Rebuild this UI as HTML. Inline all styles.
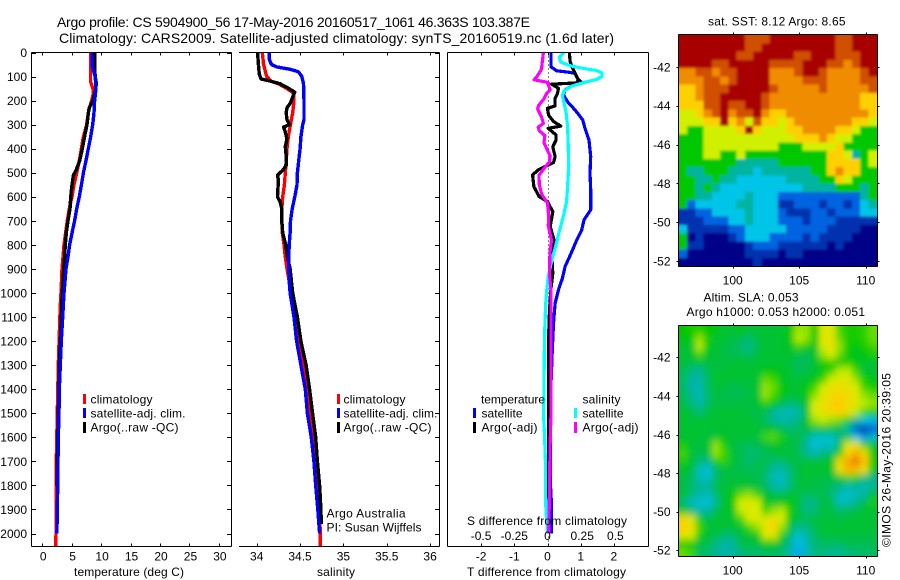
<!DOCTYPE html>
<html lang="en">
<head>
<meta charset="utf-8">
<title>Argo profile 5904900_56</title>
<style>
html,body{margin:0;padding:0;background:#fff;}
svg{display:block;font-family:"Liberation Sans",sans-serif;font-size:12px;fill:#000;}
.f{stroke:#000;stroke-width:1;shape-rendering:crispEdges;fill:none;}
.t{font-size:14px;}
</style>
</head>
<body>
<svg id="chart" width="900" height="580" viewBox="0 0 900 580" xmlns="http://www.w3.org/2000/svg">
<defs>
<clipPath id="clip-sst"><rect x="679" y="35" width="198" height="231"/></clipPath>
<clipPath id="clip-sla"><rect x="679" y="326" width="198" height="231"/></clipPath>
<filter id="soft" filterUnits="userSpaceOnUse" x="640" y="290" width="280" height="300"><feGaussianBlur stdDeviation="3.2 4"/></filter>
<filter id="soft-sst" filterUnits="userSpaceOnUse" x="640" y="0" width="280" height="300"><feGaussianBlur stdDeviation="1.4 1.4"/></filter>
</defs>
<rect x="0" y="0" width="900" height="580" fill="#fff"/>

<text class="t" x="57" y="27" textLength="473">Argo profile: CS 5904900_56 17-May-2016 20160517_1061 46.363S 103.387E</text>
<text class="t" x="59" y="43" textLength="555">Climatology: CARS2009. Satellite-adjusted climatology: synTS_20160519.nc (1.6d later)</text>

<g id="p1"></g>
<g id="p2"></g>
<g id="p3"></g>

<g>
<rect x="83" y="394" width="3" height="10" fill="#f00"/>
<rect x="83" y="408" width="3" height="10" fill="#00f"/>
<rect x="83" y="422" width="3" height="11" fill="#000"/>
<text x="90.5" y="403.3" textLength="62">climatology</text>
<text x="90.5" y="417.5" textLength="95">satellite-adj. clim.</text>
<text x="90.5" y="431.5" textLength="88">Argo(..raw -QC)</text>
</g>
<g>
<rect x="337" y="394" width="3" height="10" fill="#f00"/>
<rect x="337" y="408" width="3" height="10" fill="#00f"/>
<rect x="337" y="422" width="3" height="11" fill="#000"/>
<text x="343.5" y="403.3" textLength="62">climatology</text>
<text x="343.5" y="417.5" textLength="94">satellite-adj. clim.</text>
<text x="343.5" y="431.5" textLength="88">Argo(..raw -QC)</text>
<text x="326.5" y="517.7" textLength="79">Argo Australia</text>
<text x="326.5" y="531.7" textLength="95">PI: Susan Wijffels</text>
</g>
<g>
<text x="481" y="403.3" textLength="64">temperature</text>
<rect x="473" y="408" width="3" height="10" fill="#00f"/>
<rect x="473" y="422" width="3" height="11" fill="#000"/>
<text x="481.5" y="417.5" textLength="41">satellite</text>
<text x="481.5" y="431.5" textLength="56">Argo(-adj)</text>
<text x="582.5" y="403.3" textLength="38">salinity</text>
<rect x="574" y="408" width="3" height="10" fill="#0ff"/>
<rect x="574" y="422" width="3" height="11" fill="#f0f"/>
<text x="582.5" y="417.5" textLength="41">satellite</text>
<text x="582.5" y="431.5" textLength="56">Argo(-adj)</text>
<text x="467" y="525" textLength="160">S difference from climatology</text>
</g>

<text x="74" y="576" textLength="110">temperature (deg C)</text>
<text x="317" y="576" textLength="38">salinity</text>
<text x="467" y="576" textLength="159">T difference from climatology</text>

<g id="m1"></g>
<g id="m2"></g>

<text x="708" y="25.5" textLength="137.5">sat. SST: 8.12 Argo: 8.65</text>
<text x="703.5" y="301.7" textLength="95">Altim. SLA: 0.053</text>
<text x="686.5" y="316" textLength="178.5">Argo h1000: 0.053 h2000: 0.051</text>
<text transform="translate(890.5,547) rotate(-90)" x="0" y="0" textLength="174">©IMOS 26-May-2016 20:39:05</text>
</svg>

<script>
var depthTicks = [0,100,200,300,400,500,600,700,800,900,1000,1100,1200,1300,1400,1500,1600,1700,1800,1900,2000];
var tempTicks = [0,5,10,15,20,25,30];
var salTicks = [34,34.5,35,35.5,36];
var salTickLabels = ['34','34.5','35','35.5','36'];
var diffTicks = [-2,-1,0,1,2];
var diffTickLabels = ['-2','-1','0','1','2'];
var sDiffTicks = [-0.5,-0.25,0,0.25,0.5];
var sDiffTickLabels = ['-0.5','-0.25','0','0.25','0.5'];
var lonTicks = [100,105,110];
var latTicks = [-42,-44,-46,-48,-50,-52];

var tempClimDepth = [0,120,150,170,200,240,300,350,400,450,500,550,600,650,700,750,800,900,1000,1050,1300,1500,1700,2000,2057];
var tempClim = [8.2,8.2,8.6,8.7,8.4,7.9,7.55,7,6.65,6.3,5.85,5.4,5.06,4.6,4.26,3.98,3.7,3.36,3.2,3.08,2.74,2.57,2.4,2.34,2.3];
var tempSatDepth = [0,60,100,150,200,250,300,350,400,450,500,550,600,650,700,750,800,850,900,1000,1100,1200,1300,1400,1500,1600,1700,1800,1900,2000];
var tempSat = [8.45,8.5,9,9.13,8.9,8.8,8.57,8.23,7.83,7.44,7,6.65,6.3,5.85,5.5,5.06,4.66,4.38,4.04,3.7,3.48,3.25,3.08,2.9,2.85,2.74,2.68,2.63,2.57,2.5];
var tempArgoDepth = [0,60,100,130,160,200,230,250,300,340,400,450,490,510,550,600,650,700,750,800,850,900,1000,1100,1300,1500,1700,1800];
var tempArgo = [8.9,8.9,9,9.2,9,8.6,8,7.85,7.6,7.27,6.8,6.37,5.74,5.3,5.06,4.84,4.72,4.38,4.1,3.92,3.8,3.65,3.4,3.25,2.9,2.74,2.57,2.5];

var salClimDepth = [0,50,100,120,130,150,170,200,250,300,350,400,450,500,550,600,650,700,750,800,850,900,1000,1100,1200,1300,1400,1500,1600,1700,1800,1900,2000,2057];
var salClim = [34.065,34.08,34.115,34.17,34.25,34.35,34.43,34.43,34.415,34.39,34.365,34.35,34.34,34.33,34.32,34.3,34.29,34.29,34.295,34.315,34.33,34.35,34.4,34.445,34.5,34.53,34.58,34.615,34.64,34.67,34.7,34.72,34.735,34.735];
var salSatDepth = [0,30,50,60,70,80,100,130,200,280,300,350,400,450,500,550,600,650,700,750,800,850,900,950,1000,1100,1200,1300,1400,1500,1600,1700,1800,1900,2000];
var salSat = [34.146,34.146,34.17,34.23,34.385,34.48,34.52,34.54,34.546,34.546,34.53,34.51,34.5,34.485,34.47,34.465,34.44,34.41,34.39,34.385,34.375,34.37,34.37,34.375,34.385,34.43,34.46,34.51,34.56,34.585,34.63,34.66,34.68,34.705,34.725];
var salArgoDepth = [0,50,90,110,118,130,145,165,180,210,230,250,280,300,310,330,360,390,430,470,490,510,530,600,620,650,700,750,800,850,900,1000,1100,1200,1300,1400,1500,1600,1700,1800,1900,1960];
var salArgo = [34.01,34.02,34.03,34.05,34.15,34.27,34.35,34.44,34.42,34.39,34.35,34.34,34.35,34.38,34.31,34.33,34.35,34.33,34.34,34.34,34.3,34.24,34.25,34.24,34.27,34.29,34.29,34.3,34.335,34.355,34.385,34.415,34.47,34.51,34.57,34.61,34.645,34.68,34.7,34.725,34.74,34.745];

var dTSatDepth = [0,60,76,82,87,114,127,156,176,204,239,280,315,364,433,502,571,654,696,738,780,835,890,939,987,1043,1126,1237,1400,1600,1800,1880,2000];
var dTSat = [0.105,0.105,0.276,0.63,0.83,0.93,0.86,0.53,0.48,0.6,0.83,1.06,1.13,1.25,1.3,1.28,1.3,1.3,1.1,1.03,0.88,0.71,0.53,0.45,0.33,0.23,0.18,0.145,0.1,0.08,0.09,0.12,0.12];
var dTArgoDepth = [0,37,63,87,107,125,132,149,170,191,222,232,260,287,306,315,343,364,392,433,458,488,509,558,599,620,662,724,780,835,918,990,1100,1200,1500,1950];
var dTArgo = [0.66,0.68,0.75,0.83,0.9,1.03,0.125,0.33,0.3,0.23,0.23,0,0.03,0.18,0.4,0.02,0.26,0.26,0.16,0.23,0.18,-0.28,-0.45,-0.41,-0.25,0,0.16,0.08,0.2,0.125,0.16,0.1,0.05,0.03,0.03,0.03];
var dSSatDepth = [0,20,40,55,65,75,85,100,112,125,140,160,180,210,250,300,350,400,470,550,620,680,740,800,860,930,990,1050,1150,1250,1400,1500,1600,1700,1800,1900,2000];
var dSSat = [0.124,0.089,0.1,0.17,0.257,0.37,0.41,0.41,0.37,0.27,0.18,0.124,0.112,0.124,0.14,0.15,0.154,0.157,0.16,0.152,0.144,0.12,0.09,0.064,0.034,0.006,-0.006,-0.014,-0.02,-0.024,-0.026,-0.03,-0.022,-0.016,-0.016,-0.012,0];
var dSArgoDepth = [0,60,75,100,113,125,135,155,170,195,220,235,270,295,310,325,345,375,400,430,455,485,510,550,590,625,680,720,780,830,920,990,1200,1500,1650,1850,2000];
var dSArgo = [-0.031,-0.044,-0.049,-0.08,-0.1,0.006,0.006,0.02,-0.006,-0.03,-0.067,-0.074,-0.044,-0.031,-0.07,-0.062,-0.02,-0.026,-0.006,0.02,0.014,-0.03,-0.064,-0.062,-0.044,0,0.009,0.006,0.03,0.019,0.014,0.026,0.026,0.026,0.019,0.014,0.009];

var sstRows = [
[10,10,10,10,10,10,10,10,9,9,9,10,10,10,10,10,10,10,10,9,9,10,10,10],
[10,10,10,10,10,10,10,10,9,9,10,10,10,10,10,10,10,10,10,9,9,10,10,10],
[10,10,10,10,10,10,10,9,9,10,10,10,10,10,9,9,10,10,10,9,9,9,10,10],
[10,10,10,10,9,9,10,10,10,10,10,9,9,9,9,10,10,10,9,9,8,9,10,10],
[8,8,9,9,8,9,9,10,10,10,10,8,8,8,9,10,10,9,8,8,8,8,9,10],
[8,8,8,9,9,8,9,10,10,10,10,8,8,8,8,9,9,9,8,8,8,8,9,9],
[7,7,8,9,9,9,10,10,10,10,10,9,8,8,8,8,8,9,8,8,8,8,8,9],
[7,7,8,9,9,10,10,10,10,10,9,8,8,8,8,8,8,8,8,8,8,8,7,7],
[7,7,7,9,9,10,9,9,10,10,9,8,8,8,8,8,8,8,8,8,8,8,7,7],
[6,6,7,8,9,10,8,9,9,10,8,7,7,8,8,8,8,8,8,8,8,8,8,7],
[6,6,6,7,7,10,7,8,6,9,7,7,6,7,8,8,8,8,8,8,8,7,7,6],
[6,5,5,6,6,6,6,7,10,7,6,6,6,7,7,8,8,8,8,7,7,6,5,5],
[5,5,5,6,6,6,6,6,6,6,6,6,6,6,7,7,7,8,7,6,6,5,5,5],
[5,5,5,6,6,6,6,6,6,6,6,6,5,5,5,6,6,6,6,7,5,5,5,5],
[5,5,5,6,6,5,5,6,5,5,5,5,5,5,5,5,5,5,7,7,6,4,5,6],
[5,5,5,5,5,5,5,4,4,4,4,4,5,5,5,5,5,5,7,7,7,7,5,6],
[5,4,4,5,5,5,4,4,4,3,4,4,4,4,4,4,5,5,7,8,7,7,5,5],
[5,5,4,4,5,4,4,3,3,3,3,3,3,4,4,4,4,5,5,7,6,5,5,5],
[5,5,4,5,4,3,3,3,3,3,3,3,3,3,3,4,4,4,4,5,5,5,4,5],
[5,5,4,4,3,3,3,3,4,3,3,3,2,2,2,2,2,2,2,2,2,2,4,5],
[5,2,3,3,3,3,3,4,4,3,3,3,1,1,2,2,2,1,2,2,1,2,3,4],
[1,1,2,2,3,3,3,3,4,3,3,3,2,1,1,1,2,2,1,2,2,2,3,3],
[1,1,1,2,2,2,3,3,4,3,3,3,2,2,2,1,2,2,2,1,1,1,1,1],
[3,1,1,1,1,1,2,2,3,3,3,3,3,2,2,2,2,2,1,1,1,1,0,0],
[5,0,1,0,0,0,1,2,3,3,3,2,2,2,2,1,2,1,1,1,1,0,0,0],
[5,1,1,0,0,0,0,0,1,2,2,2,1,1,1,1,1,1,0,1,0,0,0,0],
[2,0,0,0,0,0,0,0,1,1,1,1,0,1,1,0,0,0,0,0,0,0,0,0],
[0,0,0,0,0,0,0,0,0,1,0,0,0,0,0,0,0,0,0,0,0,0,0,0]
];
var slaRows = [
[5.3,5.4,5.4,5.3,5.2,5,5,5.2,5,5,5,5,5,5.2,6,6,5.3,6.4,6.6,5.6,5.4,5.4,5.5,5.8],
[5.2,5.2,6,5.4,5,5,4.9,4.8,4.6,4.9,5,5,5,5.2,6.2,6,5.2,6.6,6.8,5.8,5.4,5.4,5.5,5.8],
[5,5,6.2,5.2,5,4.9,4.8,4.6,4.4,4.8,5,5,5,5.1,5.6,5.4,5.1,6.4,6.8,6,5.4,5.2,5.4,5.6],
[5,5,5.6,5,5,4.9,4.8,4.8,4.7,4.9,5,5,5,5,4.9,4.8,5,6,6.4,5.8,5.2,5.1,5.2,5.4],
[4.9,4.9,4.9,4.9,4.9,4.9,5,5,5,5,5,5,5,4.9,4.7,4.7,5,5.4,5.4,5.2,5.5,5.2,5,5],
[4.8,4.5,4.3,4.8,5,5,5,5,5,5,5.2,5.2,5.1,5,4.8,4.9,5,5.2,5.6,6.2,6.2,5.6,5,5],
[4.7,4.3,4.2,4.7,5,5,5,5,5,5,5.8,5.6,5.1,5,5,5,5.2,5.6,6.4,6.6,6.6,6,5.4,5.2],
[4.7,4.3,4.1,4.7,5,4.9,4.8,4.8,4.9,5,6,5.8,5.2,5,5,5.2,5.6,6.4,6.8,6.9,6.8,6.5,5.6,5.4],
[4.8,4.4,4,4.6,4.9,4.8,4.8,4.8,4.9,5,6,5.6,5.2,5,5,5.2,6,6.6,7,7.1,7,6.6,6,5.8],
[4.9,4.6,4.2,4.7,4.9,4.9,4.9,4.9,4.9,5,5.4,5.2,4.8,4.5,4.7,5,6.4,6.8,7.2,7.4,7,6.6,6.2,6],
[5,4.9,4.6,4.9,5,5,5,5,4.9,4.8,4.8,4.3,4,4,4.2,5,6.4,6.8,7,7.3,6.8,6.2,5.6,5.4],
[5,5,5,5,5,5,5,5,5,4.9,4.7,4.4,4.2,4.3,4.5,5,6,6.2,6,5.8,5.4,4.4,3.4,3.2],
[5,5,5,5,5,5,5,5,5,5,5,5,4.8,4.6,4.7,4.9,5,5,5,4.8,4.2,2.2,1.2,2.2],
[5,5,5,4.9,5,5.1,5,5,5,4.9,5.6,5.7,5.4,4.9,4.8,4.5,3.8,3.7,3.8,4.4,4.8,3.4,2.8,3.8],
[5.4,5,4.9,5,6,5.4,4.9,4.8,4.7,4.8,4.9,5,5,4.9,4.8,4.3,3.5,3.9,3.6,4.8,6.4,6.8,5.6,5],
[5.6,5,4.8,4.9,6,5.6,5,4.8,4.6,4.6,4.8,4.9,5,4.9,4.8,4.4,4.2,4.5,4.6,5.4,7.2,7.8,7,5.2],
[5.4,5,4.6,4.4,5.4,5.5,5,4.8,4.6,4.8,4.8,4.6,4.6,4.8,4.9,5,5,5,5.2,7,8,8.6,7.6,5.4],
[5,4.9,3.9,3.6,4.6,4.9,4.9,4.8,4.8,4.8,4.7,4.2,4.1,4.6,4.9,5,5,5,5,6.8,7.6,7.6,6.8,5.2],
[4.9,4.7,4,3.8,4.7,4.9,4.9,4.9,4.9,4.8,4.6,4,3.8,4.5,4.9,5,4.9,4.9,4.9,5,5.6,5.4,4.6,4.4],
[4.9,4.6,4.4,4.4,4.8,4.9,5,5,5,4.9,4.7,4.3,4,4.6,4.9,4.9,4.9,4.8,4.7,4.5,4.3,4.3,4,4.4],
[5,4.6,4.2,3.9,4.6,5,5.2,5.8,6,5.6,5,4.9,4.8,4.9,4.9,4.7,4.8,4.8,4.6,3.9,3.6,4,4.3,5],
[4.6,3.9,3.6,3.5,4.4,5,5.2,6.4,6.6,6.4,5.2,5,5.2,5.2,4.9,4.4,4.5,4.9,4.8,3.9,4,4.4,4.8,5.4],
[5.2,4.6,4.2,4.3,4.8,5,5.1,6.2,6.6,6.4,5.6,6,6.2,5.4,4.9,4.5,4.6,4.9,4.9,4.7,4.8,4.9,5,5],
[7,6.6,5.4,4.8,5,5,5,5.6,6.4,6.6,6.4,6.8,6.4,5.2,4.9,4.8,4.9,4.9,4.9,4.9,4.9,5,5,5],
[7.2,7,5.6,5,5,5,5,5,5.6,6,6.8,7.2,6,5,4.4,4.5,4.8,5,5,5,5,5,5,5],
[6.6,6.4,5.4,5,4.8,4.6,4.6,4.9,5,5.2,6.4,6.6,5.4,4.6,3.6,4.2,4.7,4.9,4.9,4.9,4.9,4.9,4.9,4.9],
[5.4,5.2,4.9,4.8,4.5,4.2,4.3,4.8,4.9,4.9,5.2,5.2,4.9,4.3,3.2,4,4.6,4.7,4.7,4.7,4.8,4.8,4.8,4.8],
[5.8,5.6,4.7,4.6,4.4,4.2,4.3,4.5,4.6,4.6,4.7,4.7,4.6,4.2,3,4,4.5,4.5,4.4,4.4,4.5,4.6,4.6,4.7]
];

var NS = 'http://www.w3.org/2000/svg';
var colorStops = [[0,0,136],[0,48,176],[0,100,224],[0,196,232],[0,180,160],[0,200,0],[208,240,0],[255,208,0],[240,140,0],[208,80,0],[168,0,0]];
function colorOf(v){
  var c = Math.max(0, Math.min(10, v));
  var i = Math.min(9, Math.floor(c));
  var f = c - i;
  var a = colorStops[i], b = colorStops[i + 1];
  return 'rgb(' + Math.round(a[0] + (b[0] - a[0]) * f) + ',' + Math.round(a[1] + (b[1] - a[1]) * f) + ',' + Math.round(a[2] + (b[2] - a[2]) * f) + ')';
}
function yDepth(d){ return 52.5 + d * 0.2405; }
function xTemp(t){ return 42.2 + t * 5.89; }
function xSal(s){ return 256.7 + (s - 34) * 86.7; }
function xDiff(t){ return 547.5 + t * 33.2; }
function xDiffS(s){ return xDiff(s * 4); }

function seg(parent, name, x1, y1, x2, y2){
  var el = document.createElementNS(NS, 'line');
  el.setAttribute('class', 'f');
  el.setAttribute('x1', x1);
  el.setAttribute('y1', y1);
  el.setAttribute('x2', x2);
  el.setAttribute('y2', y2);
  
  
  parent.appendChild(el);
  return el;
}
function label(parent, name, str, x, y, anchor){
  var el = document.createElementNS(NS, 'text');
  el.setAttribute('x', x);
  el.setAttribute('y', y);
  el.setAttribute('text-anchor', anchor);
  el.textContent = str;
  
  
  parent.appendChild(el);
  return el;
}
function profile(parent, name, depths, values, xf, color, width){
  var pts = [];
  for (var i = 0; i < depths.length; i++) {
    pts.push(xf(values[i]).toFixed(1) + ',' + yDepth(depths[i]).toFixed(1));
  }
  var el = document.createElementNS(NS, 'polyline');
  el.setAttribute('points', pts.join(' '));
  el.setAttribute('fill', 'none');
  el.setAttribute('stroke', color);
  el.setAttribute('stroke-width', width);
  el.setAttribute('stroke-linejoin', 'round');
  el.setAttribute('shape-rendering', 'crispEdges');
  
  
  parent.appendChild(el);
}

var p1 = document.getElementById('p1');
var p2 = document.getElementById('p2');
var p3 = document.getElementById('p3');

profile(p1, 'temperature-climatology-line', tempClimDepth, tempClim, xTemp, '#f00', 3.4);
profile(p1, 'temperature-argo-line', tempArgoDepth, tempArgo, xTemp, '#000', 3.4);
profile(p1, 'temperature-satellite-line', tempSatDepth, tempSat, xTemp, '#00f', 3.4);
profile(p2, 'salinity-climatology-line', salClimDepth, salClim, xSal, '#f00', 3.4);
profile(p2, 'salinity-argo-line', salArgoDepth, salArgo, xSal, '#000', 3.4);
profile(p2, 'salinity-satellite-line', salSatDepth, salSat, xSal, '#00f', 3.4);

var zeroLine = seg(p3, 'zero-difference-line', 548.5, yDepth(0), 548.5, yDepth(2057));
zeroLine.setAttribute('stroke-dasharray', '1 3');
profile(p3, 't-difference-satellite-line', dTSatDepth, dTSat, xDiff, '#00f', 3.2);
profile(p3, 't-difference-argo-line', dTArgoDepth, dTArgo, xDiff, '#000', 3.2);
profile(p3, 's-difference-satellite-line', dSSatDepth, dSSat, xDiffS, '#0ff', 3.2);
profile(p3, 's-difference-argo-line', dSArgoDepth, dSArgo, xDiffS, '#f0f', 3.2);

seg(p1, 'temperature-panel-left-axis', 31.5, 52.5, 31.5, 546.5);
seg(p1, 'temperature-panel-right-axis', 231.5, 52.5, 231.5, 546.5);
seg(p1, 'temperature-panel-top-axis', 31.5, 52.5, 231.5, 52.5);
seg(p1, 'temperature-panel-bottom-axis', 31.5, 546.5, 231.5, 546.5);
seg(p2, 'salinity-panel-right-axis', 439.5, 52.5, 439.5, 546.5);
seg(p2, 'salinity-panel-top-axis', 239, 52.5, 439.5, 52.5);
seg(p2, 'salinity-panel-bottom-axis', 239, 546.5, 439.5, 546.5);
seg(p3, 'difference-panel-left-axis', 447.5, 52.5, 447.5, 546.5);
seg(p3, 'difference-panel-right-axis', 648.5, 52.5, 648.5, 546.5);
seg(p3, 'difference-panel-top-axis', 447.5, 52.5, 648.5, 52.5);
seg(p3, 'difference-panel-bottom-axis', 447.5, 546.5, 648.5, 546.5);

depthTicks.forEach(function(d){
  var y = Math.round(yDepth(d)) + 0.5;
  seg(p1, 'depth-tick-left', 31.5, y, 36, y);
  seg(p1, 'depth-tick-right', 227, y, 231.5, y);
  seg(p2, 'depth-tick-right', 435, y, 439.5, y);
  label(p1, 'depth-tick-label', String(d), 27, yDepth(d) + 4.4, 'end');
});
tempTicks.forEach(function(t){
  var x = Math.round(xTemp(t)) + 0.5;
  seg(p1, 'temperature-tick-top', x, 52.5, x, 55.5);
  seg(p1, 'temperature-tick-bottom', x, 543.5, x, 546.5);
  label(p1, 'temperature-tick-label', String(t), xTemp(t) + 1, 560.5, 'middle');
});
salTicks.forEach(function(s, i){
  var x = Math.round(xSal(s)) + 0.5;
  seg(p2, 'salinity-tick-top', x, 52.5, x, 55.5);
  seg(p2, 'salinity-tick-bottom', x, 543.5, x, 546.5);
  label(p2, 'salinity-tick-label', salTickLabels[i], xSal(s), 560.5, 'middle');
});
diffTicks.forEach(function(t, i){
  var x = Math.round(xDiff(t)) + 0.5;
  seg(p3, 't-difference-tick-top', x, 52.5, x, 55.5);
  seg(p3, 't-difference-tick-bottom', x, 543.5, x, 546.5);
  label(p3, 't-difference-tick-label', diffTickLabels[i], xDiff(t), 560.5, 'middle');
});
sDiffTicks.forEach(function(s, i){
  label(p3, 's-difference-tick-label', sDiffTickLabels[i], xDiffS(s) + (i > 2 ? 1.5 : 0), 540, 'middle');
});

function drawMap(host, key, rows, top, bottom, lat42, lat52, clipId, filterId, colorBias){
  var left = 679, right = 876.5;
  var nr = rows.length, nc = rows[0].length;
  var cw = (right - left) / nc, ch = (bottom - top) / nr;
  var outer = document.createElementNS(NS, 'g');
  
  
  outer.setAttribute('clip-path', 'url(#' + clipId + ')');
  var inner = document.createElementNS(NS, 'g');
  
  
  inner.setAttribute('filter', 'url(#' + filterId + ')');
  var pad = 14;
  for (var r = 0; r < nr; r++) {
    for (var c = 0; c < nc; c++) {
      var x0 = left + c * cw - (c === 0 ? pad : 0);
      var x1 = left + (c + 1) * cw + (c === nc - 1 ? pad : 0);
      var y0 = top + r * ch - (r === 0 ? pad : 0);
      var y1 = top + (r + 1) * ch + (r === nr - 1 ? pad : 0);
      var cell = document.createElementNS(NS, 'rect');
      cell.setAttribute('x', x0.toFixed(1));
      cell.setAttribute('y', y0.toFixed(1));
      cell.setAttribute('width', (x1 - x0 + 0.6).toFixed(1));
      cell.setAttribute('height', (y1 - y0 + 0.6).toFixed(1));
      cell.setAttribute('fill', colorOf(rows[r][c] - colorBias));
      cell.setAttribute('shape-rendering', 'crispEdges');
      
      
      inner.appendChild(cell);
    }
  }
  outer.appendChild(inner);
  host.appendChild(outer);
  function lonX(lon){ return 732.7 + (lon - 100) * 13.3; }
  function latY(lat){ return lat42 + (-42 - lat) / 10 * (lat52 - lat42); }
  var T = Math.floor(top) - 0.5, B = Math.ceil(bottom) + 0.5;
  seg(host, key + '-top-axis', 678.5, T, 877.5, T);
  seg(host, key + '-bottom-axis', 678.5, B, 877.5, B);
  seg(host, key + '-left-axis', 678.5, T, 678.5, B);
  seg(host, key + '-right-axis', 877.5, T, 877.5, B);
  lonTicks.forEach(function(lon){
    var x = Math.round(lonX(lon)) + 0.5;
    seg(host, key + '-lon-tick-top', x, T - 2, x, T);
    seg(host, key + '-lon-tick-bottom', x, B, x, B + 2);
    label(host, key + '-lon-label', String(lon), lonX(lon), B + 18, 'middle');
  });
  latTicks.forEach(function(lat){
    var y = Math.round(latY(lat)) + 0.5;
    seg(host, key + '-lat-tick-left', 676.5, y, 678.5, y);
    seg(host, key + '-lat-tick-right', 877.5, y, 879.5, y);
    label(host, key + '-lat-label', String(lat), 670.5, latY(lat) + 4.4, 'end');
  });
}
drawMap(document.getElementById('m1'), 'sst-map', sstRows, 35, 266, 67, 261, 'clip-sst', 'soft-sst', 0);
drawMap(document.getElementById('m2'), 'sla-map', slaRows, 326, 556, 357.3, 550.3, 'clip-sla', 'soft', 0.3);
</script>
</body>
</html>
